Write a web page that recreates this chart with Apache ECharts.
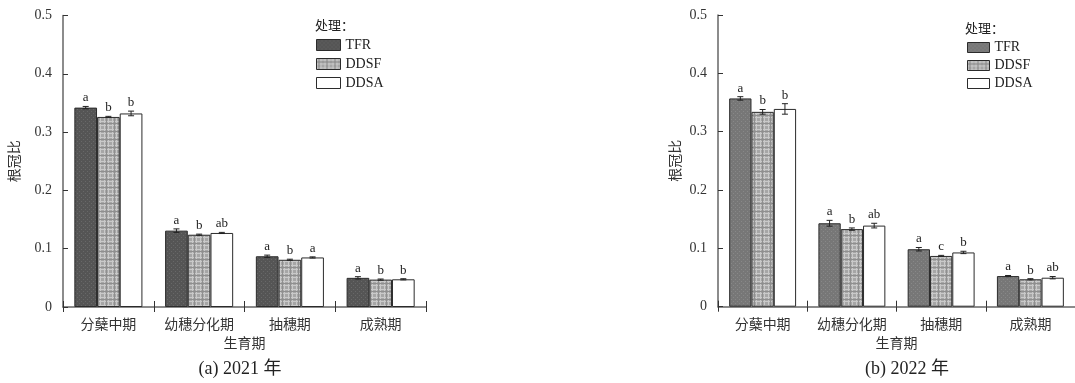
<!DOCTYPE html>
<html>
<head>
<meta charset="utf-8">
<title>根冠比</title>
<script src="https://cdn.jsdelivr.net/npm/echarts@6/dist/echarts.min.js"></script>
<style>
  html, body { margin: 0; padding: 0; background: #fff; }
  #chart { width: 1075px; height: 383px; }
</style>
</head>
<body>
<div id="chart"></div>
<script>
// Growth stages (x categories) and treatments
const stages = ['分蘖中期', '幼穗分化期', '抽穗期', '成熟期'];
const treatments = ['TFR', 'DDSF', 'DDSA'];
const yTicks = [0, 0.1, 0.2, 0.3, 0.4, 0.5];

// 2021 root/shoot ratio: means, standard errors, significance letters
const tfr2021 = [0.342, 0.131, 0.087, 0.050];
const ddsf2021 = [0.326, 0.124, 0.081, 0.047];
const ddsa2021 = [0.332, 0.127, 0.085, 0.0475];
const tfrErr2021 = [0.002, 0.003, 0.002, 0.002];
const ddsfErr2021 = [0.001, 0.001, 0.001, 0.001];
const ddsaErr2021 = [0.004, 0.001, 0.001, 0.001];
const tfrSig2021 = ['a', 'a', 'a', 'a'];
const ddsfSig2021 = ['b', 'b', 'b', 'b'];
const ddsaSig2021 = ['b', 'ab', 'a', 'b'];

// 2022 root/shoot ratio
const tfr2022 = [0.357, 0.143, 0.0985, 0.0525];
const ddsf2022 = [0.334, 0.133, 0.087, 0.047];
const ddsa2022 = [0.339, 0.139, 0.093, 0.0497];
const tfrErr2022 = [0.003, 0.005, 0.003, 0.001];
const ddsfErr2022 = [0.004, 0.002, 0.001, 0.001];
const ddsaErr2022 = [0.009, 0.004, 0.002, 0.002];
const tfrSig2022 = ['a', 'a', 'a', 'a'];
const ddsfSig2022 = ['b', 'b', 'c', 'b'];
const ddsaSig2022 = ['b', 'ab', 'b', 'ab'];

const SERIF = '"Liberation Serif", "Times New Roman", serif';
const CJK = '"Noto Sans CJK SC", sans-serif';
const MIXED = '"Liberation Serif", "Noto Sans CJK SC", serif';

// Fill textures: speckled solid gray and a plaid check
function speckle(base, dot) {
  const c = document.createElement('canvas');
  c.width = 4; c.height = 4;
  const g = c.getContext('2d');
  g.fillStyle = base; g.fillRect(0, 0, 4, 4);
  g.fillStyle = dot;
  g.fillRect(1, 1, 1, 1);
  g.fillRect(3, 3, 1, 1);
  return { image: c, repeat: 'repeat' };
}
function plaid() {
  const c = document.createElement('canvas');
  c.width = 8; c.height = 8;
  const g = c.getContext('2d');
  g.fillStyle = '#a6a6a6'; g.fillRect(0, 0, 8, 8);
  g.fillStyle = '#c9c9c9';
  g.fillRect(0, 0, 1, 8); g.fillRect(4, 0, 1, 8);
  g.fillRect(0, 1, 8, 1); g.fillRect(0, 5, 8, 1);
  g.fillStyle = '#8f8f8f';
  g.fillRect(2, 0, 1, 8); g.fillRect(0, 3, 8, 1);
  return { image: c, repeat: 'repeat' };
}

const fills2021 = [speckle('#555555', '#686868'), plaid(), '#ffffff'];
const fills2022 = [speckle('#777777', '#888888'), plaid(), '#ffffff'];
const BORDER = '#2b2b2b';
const AXIS = '#666';

const panels = [
  { means: [tfr2021, ddsf2021, ddsa2021], errs: [tfrErr2021, ddsfErr2021, ddsaErr2021],
    sig: [tfrSig2021, ddsfSig2021, ddsaSig2021], fills: fills2021,
    grid: { left: 63, top: 15.5, width: 363, height: 291.5 },
    yGap: 42, xGap: 27, caption: '(a) 2021 年', capX: 240,
    legendTitle: { left: 315, top: 19 },
    legend: { left: 316, top: 38, itemWidth: 24, itemHeight: 11, itemGap: 5, lh: 12 } },
  { means: [tfr2022, ddsf2022, ddsa2022], errs: [tfrErr2022, ddsfErr2022, ddsaErr2022],
    sig: [tfrSig2022, ddsfSig2022, ddsaSig2022], fills: fills2022,
    grid: { left: 718, top: 15, width: 361, height: 291.7 },
    yGap: 36, xGap: 22, caption: '(b) 2022 年', capX: 907,
    legendTitle: { left: 965, top: 22 },
    legend: { left: 967, top: 40.5, itemWidth: 22, itemHeight: 10, itemGap: 4, lh: 11 } }
];

const grid = [], xAxis = [], yAxis = [], series = [], legend = [], title = [];

panels.forEach((p, pi) => {
  grid.push(Object.assign({ containLabel: false }, p.grid));

  // main category axis
  xAxis.push({
    type: 'category', gridIndex: pi, data: stages,
    name: '生育期', nameLocation: 'middle', nameGap: p.xGap,
    nameTextStyle: { fontFamily: CJK, fontSize: 14, color: '#333' },
    axisLine: { lineStyle: { color: AXIS, width: 1.5 } },
    axisTick: { show: true, length: 5, lineStyle: { color: '#333', width: 1 } },
    axisLabel: { fontFamily: CJK, fontSize: 14, color: '#333', margin: 10, interval: 0 }
  });
  // inward half of the crossing tick marks
  xAxis.push({
    type: 'category', gridIndex: pi, data: stages, position: 'bottom',
    axisLine: { show: false },
    axisTick: { show: true, inside: true, length: 6, lineStyle: { color: '#333', width: 1 } },
    axisLabel: { show: false }
  });

  yAxis.push({
    type: 'value', gridIndex: pi, min: yTicks[0], max: yTicks[yTicks.length - 1], interval: 0.1,
    name: '根冠比', nameLocation: 'middle', nameGap: p.yGap, nameRotate: 90,
    nameTextStyle: { fontFamily: CJK, fontSize: 14, color: '#333' },
    axisLine: { show: true, lineStyle: { color: AXIS, width: 1.5 } },
    axisTick: { show: true, inside: true, length: 5, lineStyle: { color: '#333' } },
    splitLine: { show: false },
    axisLabel: {
      fontFamily: SERIF, fontSize: 14, color: '#333', margin: 11,
      formatter: v => (v === 0 ? '0' : v.toFixed(1))
    }
  });

  const xMain = pi * 2;
  treatments.forEach((t, k) => {
    series.push({
      type: 'bar', name: t, xAxisIndex: xMain, yAxisIndex: pi,
      data: p.means[k], barGap: '0%', barCategoryGap: '25%',
      itemStyle: { color: p.fills[k], borderColor: BORDER, borderWidth: 1 },
      emphasis: { disabled: true },
      animation: false
    });
  });

  // error bars with significance letters, placed over each bar
  treatments.forEach((t, k) => {
    const letters = p.sig[k];
    series.push({
      type: 'custom', name: t + '-err-' + pi, xAxisIndex: xMain, yAxisIndex: pi,
      data: p.means[k].map((v, i) => [i, v, p.errs[k][i]]),
      z: 5, animation: false, silent: true,
      renderItem: (params, api) => {
        const cat = api.value(0), v = api.value(1), e = api.value(2);
        const band = api.size([1, 0])[0];
        const barW = band * 0.75 / 3;
        const off = (k - 1) * barW;
        const top = api.coord([cat, v + e]);
        const bot = api.coord([cat, v - e]);
        const x = top[0] + off;
        const cap = 3;
        const ls = { stroke: '#222', lineWidth: 1 };
        return {
          type: 'group',
          children: [
            { type: 'line', shape: { x1: x, y1: top[1], x2: x, y2: bot[1] }, style: ls },
            { type: 'line', shape: { x1: x - cap, y1: top[1], x2: x + cap, y2: top[1] }, style: ls },
            { type: 'line', shape: { x1: x - cap, y1: bot[1], x2: x + cap, y2: bot[1] }, style: ls },
            { type: 'text', x: x, y: top[1] - 2,
              style: { text: letters[params.dataIndex], fill: '#222', font: '13px ' + SERIF,
                       textAlign: 'center', textVerticalAlign: 'bottom' } }
          ]
        };
      }
    });
  });

  const lg = p.legend;
  legend.push({
    orient: 'vertical', selectedMode: false, icon: 'rect', padding: 0,
    left: lg.left, top: lg.top, itemWidth: lg.itemWidth, itemHeight: lg.itemHeight, itemGap: lg.itemGap,
    textStyle: { fontFamily: SERIF, fontSize: 14, color: '#222', lineHeight: lg.lh },
    data: treatments.map((t, k) => ({ name: t, itemStyle: { color: p.fills[k], borderColor: BORDER, borderWidth: 1 } }))
  });

  title.push({
    text: '处理：', left: p.legendTitle.left, top: p.legendTitle.top, padding: 0,
    textStyle: { fontFamily: CJK, fontSize: 13, fontWeight: 'normal', color: '#222' }
  });
  title.push({
    text: p.caption, left: p.capX, top: 360, textAlign: 'center', padding: 0,
    textStyle: { fontFamily: MIXED, fontSize: 18, fontWeight: 'normal', color: '#222' }
  });
});

const chart = echarts.init(document.getElementById('chart'), null, { renderer: 'canvas' });
chart.setOption({
  animation: false,
  backgroundColor: '#fff',
  title, grid, xAxis, yAxis, legend, series
});
</script>
</body>
</html>
